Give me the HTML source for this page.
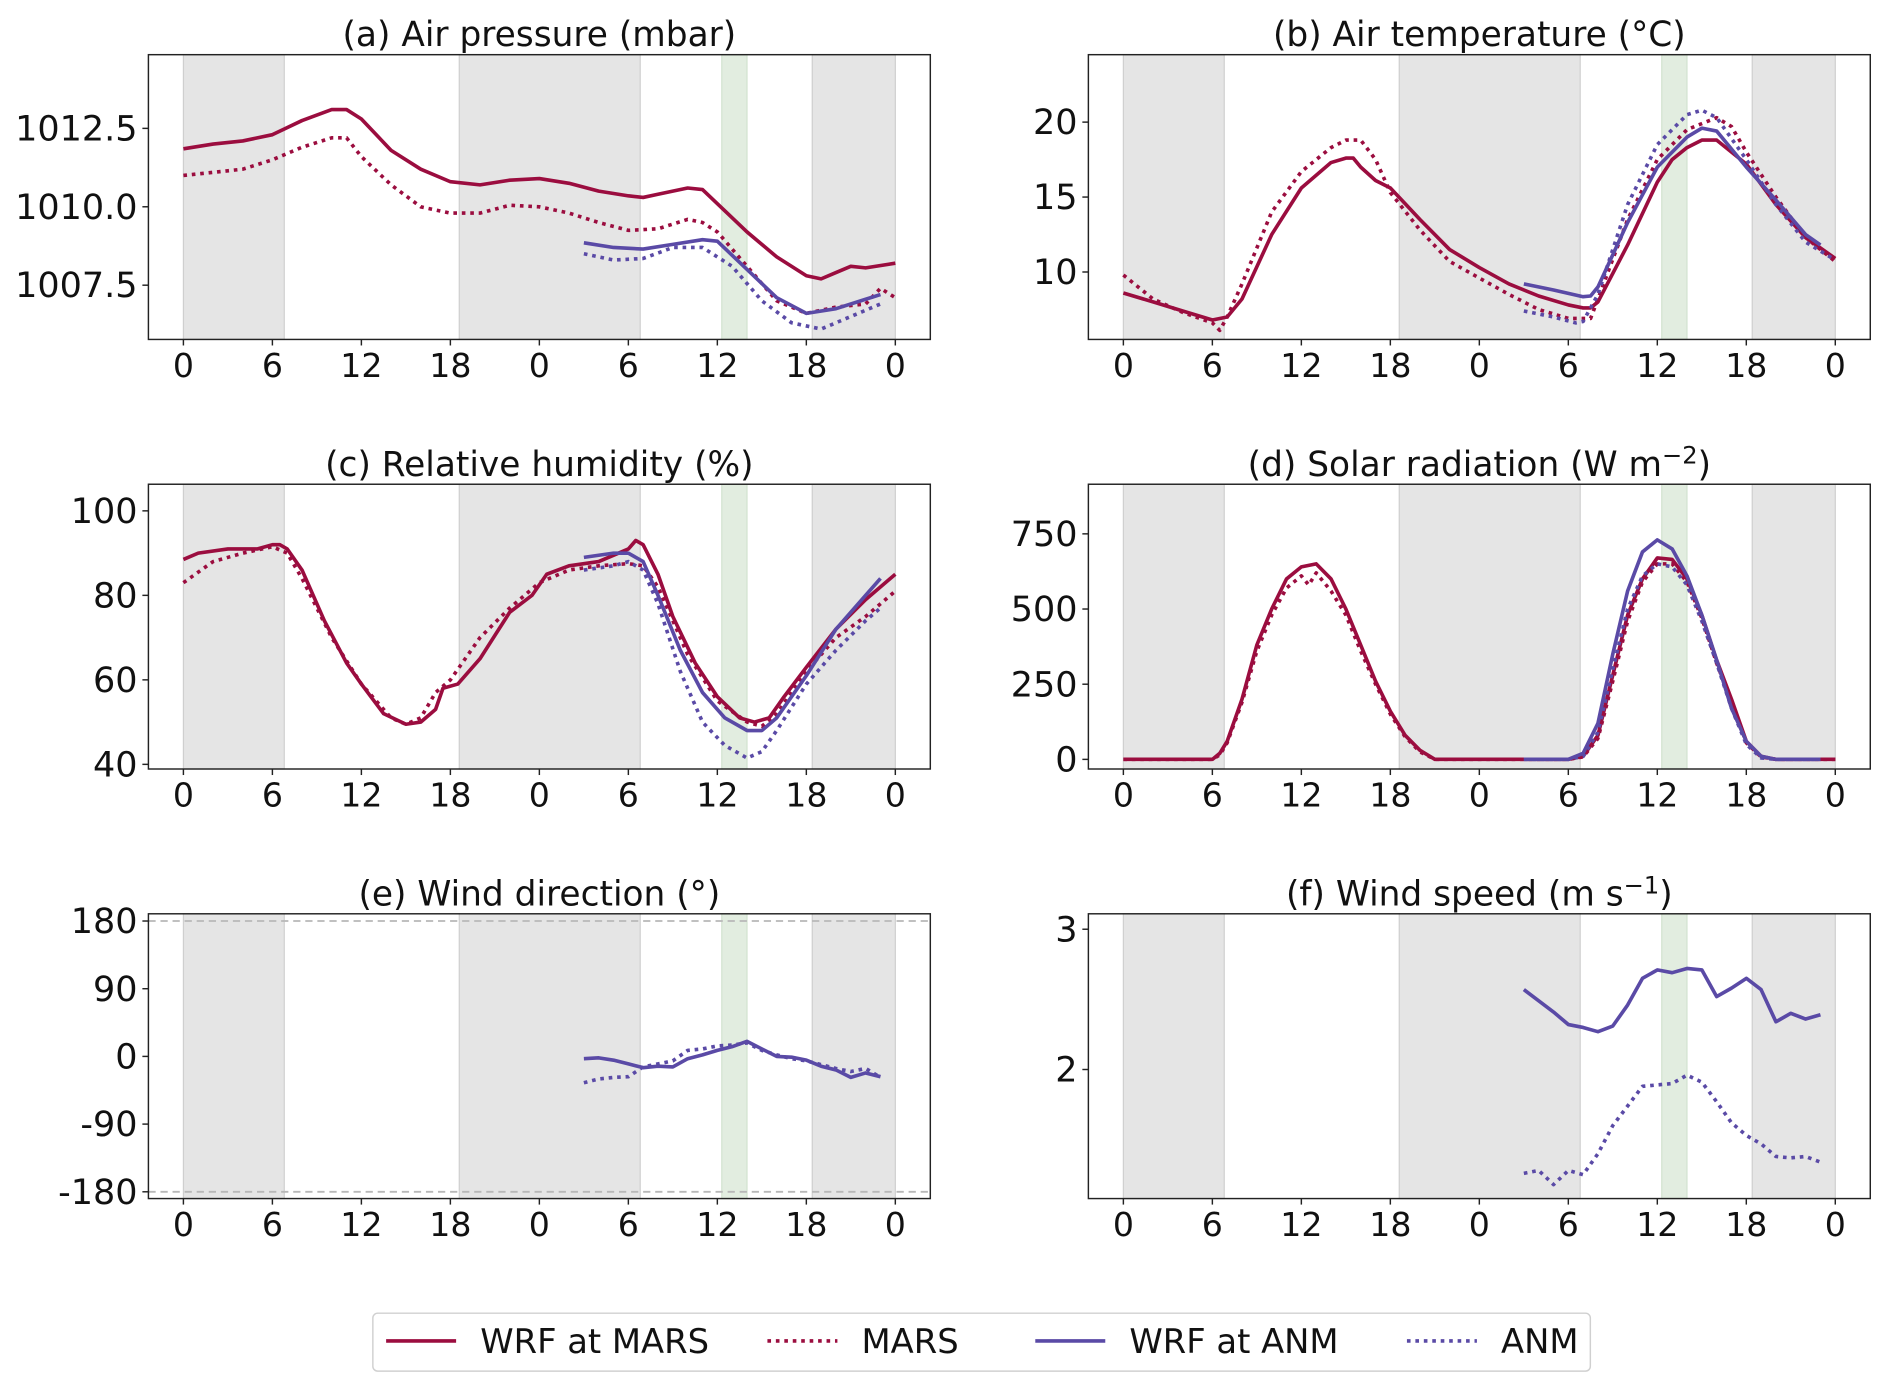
<!DOCTYPE html>
<html><head><meta charset="utf-8"><style>
html,body{margin:0;padding:0;background:#fff}
svg{display:block}
text{font-family:"DejaVu Sans","Liberation Sans",sans-serif;fill:#111}
</style></head><body>
<svg id="fig" width="1892" height="1392" viewBox="0 0 1568 1153" xmlns="http://www.w3.org/2000/svg"></svg>
<script>
// ---- shared ----
const xTickHours=[0,6,12,18,24,30,36,42,48];
const xTickLabels=["0","6","12","18","0","6","12","18","0"];
const nightBands=[[0,6.8],[18.6,30.8],[42.4,48]];
const obsBand=[36.3,38.0];
// ---- (a) pressure ----
const aTicks=[1007.5,1010.0,1012.5];
const aWrfMarsH=[0,2,4,6,8,10,11,12,14,16,18,20,22,24,26,28,30,31,32,34,35,36,38,40,42,43,44,45,46,48];
const aWrfMarsV=[1011.85,1012.0,1012.1,1012.3,1012.75,1013.1,1013.1,1012.8,1011.8,1011.2,1010.8,1010.7,1010.85,1010.9,1010.75,1010.5,1010.35,1010.3,1010.4,1010.6,1010.55,1010.1,1009.2,1008.4,1007.8,1007.7,1007.9,1008.1,1008.05,1008.2];
const aMarsH=[0,2,4,6,8,10,11,12,14,16,18,20,22,24,26,28,30,32,34,35,36,38,40,42,44,46,47,48];
const aMarsV=[1011.0,1011.1,1011.2,1011.5,1011.9,1012.2,1012.2,1011.6,1010.7,1010.0,1009.8,1009.8,1010.05,1010.0,1009.8,1009.5,1009.25,1009.3,1009.6,1009.5,1009.2,1008.1,1007.0,1006.6,1006.8,1006.9,1007.4,1007.1];
const aWrfAnmH=[27,29,31,33,35,36,38,40,42,44,46,47];
const aWrfAnmV=[1008.85,1008.7,1008.65,1008.8,1008.95,1008.9,1008.0,1007.1,1006.6,1006.75,1007.05,1007.2];
const aAnmH=[27,29,31,33,35,37,39,41,43,45,47];
const aAnmV=[1008.5,1008.3,1008.35,1008.7,1008.7,1008.1,1007.0,1006.3,1006.1,1006.5,1006.9];
// ---- (b) temperature ----
const bTicks=[10,15,20];
const bWrfMarsH=[0,2,4,6,7,8,10,12,14,15,15.5,16,17,18,20,22,24,26,28,30,31,31.5,32,34,36,37,38,39,40,42,44,46,48];
const bWrfMarsV=[8.6,8.0,7.4,6.8,7.0,8.2,12.5,15.6,17.3,17.6,17.6,17.0,16.1,15.6,13.5,11.5,10.3,9.2,8.4,7.8,7.6,7.6,8.0,11.8,16.0,17.5,18.3,18.8,18.8,17.2,14.5,12.3,10.9];
const bMarsH=[0,2,4,6,6.5,7,8,10,12,14,15,16,17,18,20,22,24,26,28,30,31.5,32,34,36,38,40,41,42,44,46,48];
const bMarsV=[9.8,8.2,7.3,6.6,6.1,7.0,9.2,14.0,16.7,18.3,18.8,18.8,17.5,15.3,12.8,10.7,9.6,8.5,7.5,6.9,6.9,8.2,13.5,17.5,19.5,20.3,19.7,18.0,15.0,12.3,10.7];
const bWrfAnmH=[27,29,31,31.5,32,34,36,38,39,40,42,44,46,47];
const bWrfAnmV=[9.2,8.8,8.35,8.4,9.0,13.3,17.0,19.0,19.6,19.4,17.0,14.8,12.5,11.8];
const bAnmH=[27,29,30.5,31,32,34,36,38,39,40,42,44,46,48];
const bAnmV=[7.4,7.0,6.6,6.7,8.5,14.5,18.5,20.5,20.8,20.3,17.5,14.5,12.0,10.8];
// ---- (c) humidity ----
const cTicks=[40,60,80,100];
const cWrfMarsH=[0,1,3,5,6,6.5,7,8,9.5,11,12,13.5,15,16,17,17.5,18.5,20,22,23.5,24.5,26,28,30,30.5,31,32,33,34.5,36,37.5,38.5,39.5,40.5,42,44,46,48];
const cWrfMarsV=[88.5,90,91,91,92,92,91,86,74,64,59,52,49.5,50,53,58,59,65,76,80,85,87,88,91,93,92,85,75,64,56,51,50,51,56,63,72,79,85];
const cMarsH=[0,2,4,6,7,8,10,12,14,15,16,17,18,20,22,24,26,28,30,31,32,34,36,38,39,40,42,44,46,48];
const cMarsV=[83,88,90,91.5,90,84,70,59,51,49.5,51,57,60,70,77,83,86,87,87.5,87,82,66,55,50,49,52,62,70,75,81];
const cWrfAnmH=[27,29,30,31,32,33.5,35,36.5,38,39,40,42,44,46,47];
const cWrfAnmV=[89,90,90,88,80,67,57,51,48,48,51,61,72,80,84];
const cAnmH=[27,29,30,31,32,33.5,35,36.5,38,39,40,42,44,46,47];
const cAnmV=[86,87,88,86,78,62,50,44.5,41.5,43,48,59,67,74,77];
// ---- (d) solar ----
const dTicks=[0,250,500,750];
const dWrfMarsH=[0,6,6.5,7,8,9,10,11,12,13,14,15,16,17,18,19,20,21,30,31,32,33,34,35,36,37,38,39,40,41,42,43,44,48];
const dWrfMarsV=[0,0,20,60,200,380,500,600,640,650,600,500,380,260,160,80,30,0,0,10,80,280,480,600,670,665,600,480,330,200,60,10,0,0];
const dMarsH=[0,6,6.5,7,8,9,10,11,12,12.5,13,14,15,16,17,18,19,20,21,30,31,32,33,34,35,36,37,38,39,40,41,42,43,44,48];
const dMarsV=[0,0,15,55,190,360,480,570,610,580,620,560,480,360,250,150,75,25,0,0,8,70,260,460,590,650,650,590,470,320,190,55,8,0,0];
const dWrfAnmH=[27,30,31,32,33,34,35,36,37,38,39,40,41,42,43,44,47];
const dWrfAnmV=[0,0,20,120,350,560,690,730,700,610,480,330,170,60,10,0,0];
const dAnmH=[27,30,31,32,33,34,35,36,37,38,39,40,41,42,43,44,47];
const dAnmV=[0,0,10,90,300,500,610,650,640,580,460,320,170,50,5,0,0];
// ---- (e) wind direction ----
const eTicks=[-180,-90,0,90,180];
const eTickLabels=["-180","-90","0","90","180"];
const eHours=[27,28,29,30,31,32,33,34,35,36,37,38,39,40,41,42,43,44,45,46,47];
const eWrfAnmV=[-3,-2,-5,-10,-15,-13,-14,-3,2,8,13,20,10,0,-1,-5,-13,-18,-28,-22,-27];
const eAnmV=[-35,-30,-28,-27,-14,-10,-6,8,10,14,15,18,8,2,-3,-6,-11,-16,-20,-16,-28];
// ---- (f) wind speed ----
const fTicks=[2,3];
const fHours=[27,28,29,30,31,32,33,34,35,36,37,38,39,40,41,42,43,44,45,46,47];
const fWrfAnmV=[2.57,2.49,2.41,2.32,2.30,2.27,2.31,2.46,2.65,2.71,2.69,2.72,2.71,2.52,2.58,2.65,2.57,2.34,2.40,2.36,2.39];
const fAnmV=[1.26,1.28,1.18,1.28,1.25,1.40,1.60,1.74,1.88,1.89,1.90,1.96,1.91,1.77,1.62,1.53,1.47,1.38,1.37,1.38,1.34];

const RED="#9b0d3f", BLUE="#5a4aa6";
const NS="http://www.w3.org/2000/svg";
const svg=document.getElementById('fig');
function mk(tag,attrs,parent){const e=document.createElementNS(NS,tag);for(const k in attrs)e.setAttribute(k,attrs[k]);(parent||svg).appendChild(e);return e;}

function panel(o){
  const g=mk('g',{});
  
  
  const L=o.x0,R=o.x0+648,T=o.y0,B=o.y0+236;
  const px0=L+29, px1=L+619;
  const sx=h=>px0+(px1-px0)*h/48;
  const sy=v=>B-(v-o.ymin)/(o.ymax-o.ymin)*(B-T);
  nightBands.forEach(b=>{const r=mk('rect',{x:sx(b[0]),y:T,width:sx(b[1])-sx(b[0]),height:B-T,fill:'#e5e5e5',stroke:'#cfcfcf','stroke-width':1},g);
    });
  const gr=mk('rect',{x:sx(obsBand[0]),y:T,width:sx(obsBand[1])-sx(obsBand[0]),height:B-T,fill:'#e2ede0',stroke:'#d2e3cf','stroke-width':1},g);
  
  if(o.dashed){o.dashed.forEach(v=>{const l=mk('line',{x1:L,x2:R,y1:sy(v),y2:sy(v),stroke:'#b8b8b8','stroke-width':1.5,'stroke-dasharray':'6 4'},g);
    });}
  o.series.forEach(s=>{
    const d=s.h.map((h,i)=>(i?'L':'M')+sx(h).toFixed(1)+','+sy(s.v[i]).toFixed(1)).join('');
    const p=mk('path',{d:d,fill:'none',stroke:s.c,'stroke-width':3,'stroke-linejoin':'round','stroke-dasharray':s.dot?'3 4':'none'},g);
    
  });
  const fr=mk('rect',{x:L,y:T,width:R-L,height:B-T,fill:'none',stroke:'#222','stroke-width':1.2},g);
  
  xTickHours.forEach((h,i)=>{mk('line',{x1:sx(h),x2:sx(h),y1:B,y2:B+5,stroke:'#222','stroke-width':1.2},g);
    const t=mk('text',{x:sx(h),y:B+31,'text-anchor':'middle','font-size':27.5},g);t.textContent=xTickLabels[i];
    });
  o.ticks.forEach((v,i)=>{mk('line',{x1:L-5,x2:L,y1:sy(v),y2:sy(v),stroke:'#222','stroke-width':1.2},g);
    const t=mk('text',{x:L-9,y:sy(v)+10,'text-anchor':'end','font-size':29},g);t.textContent=o.labels?o.labels[i]:String(v);
    });
  const tt=mk('text',{x:(L+R)/2,y:T-7,'text-anchor':'middle','font-size':28.5},g);tt.innerHTML=o.title;
  
}
const sup=s=>'<tspan dy="-10" font-size="20">'+s+'</tspan>';
panel({name:'panel-a-air-pressure',x0:123,y0:45,ymin:1005.77,ymax:1014.85,ticks:aTicks,labels:["1007.5","1010.0","1012.5"],title:'(a) Air pressure (mbar)',
 series:[{n:'wrf-mars-line',h:aWrfMarsH,v:aWrfMarsV,c:RED},{n:'mars-line',h:aMarsH,v:aMarsV,c:RED,dot:1},{n:'wrf-anm-line',h:aWrfAnmH,v:aWrfAnmV,c:BLUE},{n:'anm-line',h:aAnmH,v:aAnmV,c:BLUE,dot:1}]});
panel({name:'panel-b-air-temperature',x0:902,y0:45,ymin:5.5,ymax:24.5,ticks:bTicks,title:'(b) Air temperature (°C)',
 series:[{n:'wrf-mars-line',h:bWrfMarsH,v:bWrfMarsV,c:RED},{n:'mars-line',h:bMarsH,v:bMarsV,c:RED,dot:1},{n:'wrf-anm-line',h:bWrfAnmH,v:bWrfAnmV,c:BLUE},{n:'anm-line',h:bAnmH,v:bAnmV,c:BLUE,dot:1}]});
panel({name:'panel-c-relative-humidity',x0:123,y0:401,ymin:38.9,ymax:106.3,ticks:cTicks,title:'(c) Relative humidity (%)',
 series:[{n:'wrf-mars-line',h:cWrfMarsH,v:cWrfMarsV,c:RED},{n:'mars-line',h:cMarsH,v:cMarsV,c:RED,dot:1},{n:'wrf-anm-line',h:cWrfAnmH,v:cWrfAnmV,c:BLUE},{n:'anm-line',h:cAnmH,v:cAnmV,c:BLUE,dot:1}]});
panel({name:'panel-d-solar-radiation',x0:902,y0:401,ymin:-32,ymax:915,ticks:dTicks,title:'(d) Solar radiation (W m'+sup('−2')+'<tspan dy="10">)</tspan>',
 series:[{n:'mars-line',h:dMarsH,v:dMarsV,c:RED,dot:1},{n:'wrf-mars-line',h:dWrfMarsH,v:dWrfMarsV,c:RED},{n:'anm-line',h:dAnmH,v:dAnmV,c:BLUE,dot:1},{n:'wrf-anm-line',h:dWrfAnmH,v:dWrfAnmV,c:BLUE}]});
panel({name:'panel-e-wind-direction',x0:123,y0:757,ymin:-189,ymax:189.6,ticks:eTicks,labels:eTickLabels,dashed:[-180,180],title:'(e) Wind direction (°)',
 series:[{n:'wrf-anm-line',h:eHours,v:eWrfAnmV,c:BLUE},{n:'anm-line',h:eHours,v:eAnmV,c:BLUE,dot:1}]});
panel({name:'panel-f-wind-speed',x0:902,y0:757,ymin:1.08,ymax:3.11,ticks:fTicks,title:'(f) Wind speed (m s'+sup('−1')+'<tspan dy="10">)</tspan>',
 series:[{n:'wrf-anm-line',h:fHours,v:fWrfAnmV,c:BLUE},{n:'anm-line',h:fHours,v:fAnmV,c:BLUE,dot:1}]});

// legend
const lg=mk('g',{});


mk('rect',{x:309,y:1088,width:1009,height:48,rx:4,fill:'#fff',stroke:'#d0d0d0','stroke-width':1.2},lg);
const legNames=["WRF at MARS","MARS","WRF at ANM","ANM"];
const legX=[320,636,858,1166];
const legC=[RED,RED,BLUE,BLUE];
const legDot=[0,1,0,1];
legNames.forEach((n,i)=>{
  const e=mk('g',{},lg);
  
  
  mk('line',{x1:legX[i],x2:legX[i]+58,y1:1111,y2:1111,stroke:legC[i],'stroke-width':3,'stroke-dasharray':legDot[i]?'3 4':'none'},e);
  const t=mk('text',{x:legX[i]+78,y:1121,'font-size':28},e);t.textContent=n;
});
</script>
</body></html>
